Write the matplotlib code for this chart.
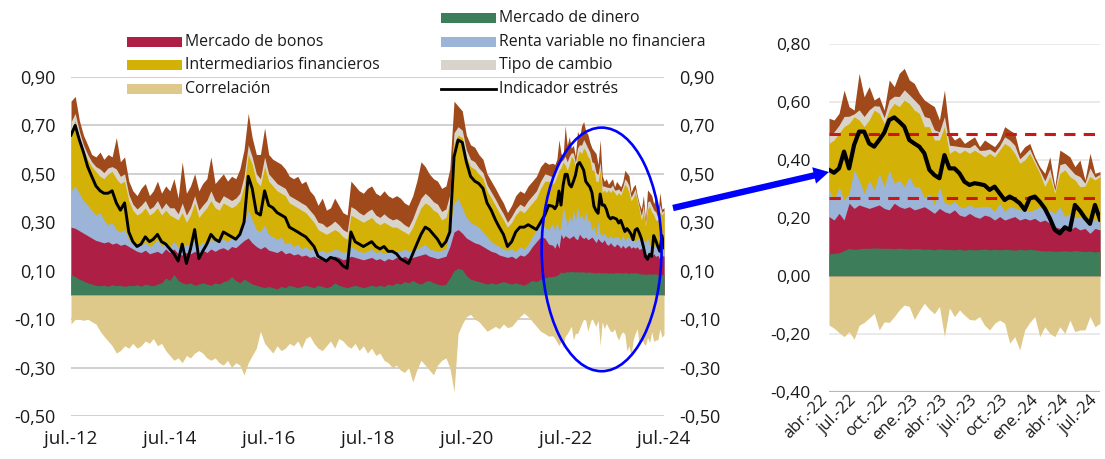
import numpy as np
import pandas as pd
import matplotlib
matplotlib.use("Agg")
import matplotlib.pyplot as plt
import matplotlib.dates as mdates
import matplotlib.transforms as mtransforms
from matplotlib.patches import Rectangle, Ellipse, FancyArrowPatch
from matplotlib.lines import Line2D

plt.rcParams['font.family'] = ['Open Sans', 'DejaVu Sans']
TXT = '#1a1a1a'

# ---------------- monthly data, jul-12 .. mar-22 (117 months) ----------------
dinero_m = [.085, .075, .065, .058, .050, .045, .040, .038, .040, .036,
            .042, .038, .040, .035, .040, .038, .042, .036, .045, .040,
            .038, .045, .050, .070, .060, .085, .060, .050, .045, .050,
            .040, .045, .050, .045, .040, .050, .045, .055, .060, .075,
            .060, .050, .065, .055, .045, .040, .035, .030, .035, .030,
            .025, .035, .030, .040, .035, .030, .035, .040, .035, .030,
            .040, .035, .030, .035, .050, .040, .035, .030, .035, .040,
            .035, .030, .035, .040, .035, .040, .035, .045, .040, .050,
            .045, .055, .050, .060, .050, .045, .055, .060, .050, .045,
            .040, .045, .070, .100, .110, .105, .080, .065, .060, .055,
            .050, .045, .050, .045, .050, .055, .050, .045, .050, .045,
            .040, .050, .060, .055, .065, .070, .075]
bonos_m = [.195, .200, .200, .197, .195, .190, .185, .182, .175, .184,
           .168, .177, .165, .175, .160, .152, .138, .139, .140, .130,
           .137, .135, .120, .120, .115, .105, .110, .115, .130, .120,
           .140, .125, .135, .130, .150, .130, .145, .140, .125, .125,
           .135, .160, .160, .180, .170, .160, .155, .170, .150, .150,
           .150, .150, .140, .135, .130, .140, .125, .125, .120, .130,
           .110, .120, .115, .115, .110, .115, .110, .120, .125, .115,
           .115, .115, .115, .115, .110, .110, .105, .105, .105, .105,
           .105, .105, .100, .095, .110, .120, .115, .100, .105, .105,
           .115, .115, .130, .160, .160, .150, .155, .160, .155, .155,
           .150, .145, .130, .130, .115, .105, .105, .115, .100, .120,
           .120, .125, .140, .165, .175, .165, .135]
renta_m = [.150, .175, .155, .135, .125, .115, .105, .120, .095, .070,
           .090, .055, .055, .060, .030, .025, .030, .030, .035, .030,
           .035, .050, .030, .030, .025, .030, .030, .035, .035, .030,
           .050, .030, .035, .035, .040, .040, .050, .035, .035, .040,
           .035, .050, .075, .115, .095, .070, .070, .090, .065, .060,
           .055, .055, .040, .045, .035, .040, .030, .035, .030, .030,
           .030, .030, .030, .030, .030, .030, .030, .030, .040, .035,
           .030, .030, .030, .035, .030, .030, .030, .030, .030, .030,
           .030, .030, .030, .030, .030, .035, .040, .030, .030, .030,
           .030, .030, .080, .120, .130, .105, .085, .075, .075, .070,
           .060, .050, .040, .035, .035, .030, .030, .030, .030, .035,
           .030, .035, .040, .050, .060, .045, .060]
interm_m = [.250, .270, .230, .210, .190, .180, .180, .150, .170, .210,
            .210, .210, .200, .200, .160, .135, .120, .135, .140, .130,
            .130, .130, .130, .130, .130, .100, .110, .140, .090, .130,
            .150, .120, .120, .150, .160, .140, .110, .150, .150, .120,
            .140, .130, .150, .230, .230, .200, .190, .240, .220, .210,
            .200, .180, .200, .160, .170, .150, .160, .140, .135, .110,
            .090, .075, .075, .080, .080, .075, .065, .050, .130, .130,
            .130, .125, .130, .130, .125, .110, .130, .110, .105, .095,
            .090, .070, .070, .095, .130, .160, .170, .180, .165, .160,
            .125, .130, .100, .250, .260, .290, .250, .230, .230, .220,
            .220, .190, .180, .160, .140, .120, .095, .110, .150, .150,
            .150, .150, .140, .130, .140, .190, .200]
tipo_m = [.035, .030, .025, .020, .020, .020, .020, .030, .025, .025,
          .020, .040, .030, .030, .025, .025, .025, .030, .030, .025,
          .025, .030, .025, .030, .030, .040, .025, .040, .030, .030,
          .030, .030, .030, .030, .040, .030, .030, .030, .030, .030,
          .030, .030, .040, .040, .030, .030, .030, .040, .030, .030,
          .030, .030, .030, .030, .030, .030, .030, .030, .030, .030,
          .030, .035, .030, .030, .035, .030, .030, .030, .035, .035,
          .030, .030, .035, .035, .030, .030, .035, .030, .030, .035,
          .035, .030, .030, .035, .040, .040, .040, .035, .035, .035,
          .035, .035, .035, .040, .035, .030, .030, .030, .030, .025,
          .025, .025, .025, .025, .025, .025, .020, .025, .025, .025,
          .025, .030, .030, .030, .030, .030, .025]
otros_m = [.085, .070, .045, .040, .040, .030, .040, .070, .055, .055,
           .040, .130, .060, .070, .055, .055, .055, .070, .070, .055,
           .065, .080, .065, .070, .070, .120, .065, .170, .090, .090,
           .090, .080, .090, .090, .140, .070, .100, .090, .070, .100,
           .080, .100, .110, .130, .080, .080, .100, .120, .080, .080,
           .090, .090, .080, .080, .080, .100, .080, .100, .080, .080,
           .070, .105, .070, .070, .095, .080, .070, .070, .105, .095,
           .090, .090, .095, .095, .090, .090, .095, .090, .090, .095,
           .095, .090, .090, .095, .110, .150, .110, .095, .095, .095,
           .095, .095, .105, .130, .085, .080, .060, .060, .060, .055,
           .055, .045, .045, .045, .045, .045, .040, .045, .055, .055,
           .055, .060, .060, .060, .060, .050, .045]
correl_m = [-.12, -.10, -.10, -.105, -.10, -.11, -.12, -.15, -.17, -.19,
            -.21, -.24, -.23, -.21, -.22, -.20, -.22, -.21, -.19, -.20,
            -.18, -.21, -.20, -.23, -.25, -.27, -.26, -.28, -.25, -.26,
            -.24, -.23, -.24, -.26, -.27, -.26, -.28, -.29, -.27, -.30,
            -.28, -.29, -.33, -.28, -.25, -.22, -.15, -.20, -.22, -.24,
            -.21, -.23, -.22, -.20, -.21, -.19, -.22, -.18, -.17, -.20,
            -.22, -.23, -.21, -.19, -.22, -.18, -.19, -.21, -.22, -.20,
            -.23, -.21, -.24, -.22, -.25, -.24, -.27, -.28, -.30, -.29,
            -.31, -.32, -.30, -.36, -.31, -.27, -.29, -.31, -.33, -.29,
            -.27, -.26, -.30, -.40, -.16, -.12, -.09, -.08, -.10, -.11,
            -.13, -.15, -.14, -.13, -.14, -.12, -.135, -.13, -.11, -.09,
            -.075, -.09, -.11, -.13, -.15, -.16, -.17]
estres_m = [.66, .70, .64, .59, .53, .49, .45, .43, .42, .42,
            .43, .38, .35, .38, .26, .22, .20, .21, .24, .22,
            .23, .25, .22, .21, .19, .17, .14, .21, .13, .19,
            .27, .15, .18, .21, .25, .23, .22, .26, .25, .24,
            .23, .25, .30, .49, .44, .34, .33, .43, .37, .36,
            .34, .33, .32, .28, .27, .26, .25, .24, .22, .20,
            .16, .15, .14, .155, .15, .14, .12, .11, .26, .22,
            .21, .20, .21, .22, .20, .19, .20, .18, .18, .17,
            .15, .14, .13, .17, .21, .25, .28, .27, .25, .23,
            .20, .22, .26, .57, .64, .63, .55, .49, .47, .46,
            .44, .38, .35, .31, .28, .25, .20, .22, .26, .28,
            .28, .29, .28, .27, .30, .33, .37]

# ---------------- semi-monthly data, abr-22 .. jul-24 (55 points) ----------------
dinero_s = [.076, .078, .080, .088, .095, .092, .094, .096, .095, .097,
            .096, .095, .096, .094, .096, .095, .093, .095, .094, .092,
            .093, .090, .094, .091, .092, .090, .093, .089, .092, .090,
            .091, .093, .090, .092, .090, .092, .091, .089, .092, .090,
            .092, .090, .088, .086, .087, .085, .086, .087, .085, .088,
            .086, .084, .086, .083, .085]
bonos_s = [.129, .115, .136, .105, .156, .141, .151, .143, .138, .142,
           .149, .138, .132, .157, .143, .138, .146, .133, .139, .147,
           .135, .126, .139, .131, .124, .138, .117, .116, .124, .115,
           .108, .117, .115, .101, .115, .101, .108, .116, .101, .109,
           .101, .109, .099, .107, .095, .085, .078, .083, .074, .082,
           .073, .080, .061, .081, .074]
renta_s = [.092, .069, .092, .069, .034, .133, .086, .046, .098, .058,
           .109, .075, .138, .069, .092, .075, .104, .080, .075, .030,
           .057, .030, .075, .030, .030, .030, .030, .030, .030, .030,
           .040, .030, .034, .030, .046, .030, .040, .030, .035, .030,
           .030, .030, .052, .030, .046, .046, .075, .035, .057, .030,
           .046, .030, .046, .030, .030]
interm_s = [.160, .207, .184, .253, .241, .183, .207, .230, .207, .275,
            .207, .218, .206, .275, .253, .299, .252, .264, .253, .246,
            .230, .223, .161, .263, .177, .176, .183, .199, .177, .199,
            .184, .171, .184, .188, .183, .234, .207, .188, .161, .171,
            .200, .160, .115, .085, .115, .069, .115, .161, .127, .131,
            .103, .116, .150, .137, .154]
tipo_s = [.030, .028, .028, .035, .025, .010, .035, .035, .035, .015,
          .025, .020, .035, .025, .035, .035, .030, .035, .028, .035,
          .030, .035, .028, .035, .028, .015, .023, .010, .020, .020,
          .010, .023, .015, .015, .015, .023, .023, .028, .015, .020,
          .015, .010, .010, .020, .027, .010, .030, .023, .027, .020,
          .035, .010, .030, .010, .008]
otros_s = [.057, .041, .041, .091, .033, .013, .126, .068, .080, .020,
           .032, .026, .069, .033, .080, .074, .051, .057, .041, .057,
           .050, .080, .041, .091, .041, .020, .034, .013, .026, .026,
           .013, .035, .019, .020, .020, .035, .034, .041, .019, .026,
           .019, .012, .013, .026, .041, .013, .050, .034, .041, .026,
           .057, .011, .050, .013, .009]
correl_s = [-.169, -.180, -.195, -.209, -.192, -.218, -.170, -.160, -.145, -.129,
            -.186, -.158, -.160, -.140, -.117, -.100, -.105, -.150, -.120, -.094,
            -.115, -.130, -.105, -.209, -.110, -.140, -.117, -.135, -.150, -.152,
            -.140, -.170, -.186, -.163, -.152, -.163, -.232, -.209, -.255, -.186,
            -.160, -.140, -.209, -.175, -.198, -.209, -.175, -.198, -.152, -.192,
            -.186, -.186, -.140, -.175, -.163]
estres_s = [.366, .356, .371, .429, .371, .452, .498, .498, .457, .446,
            .469, .494, .538, .547, .532, .515, .469, .457, .446, .423,
            .366, .348, .337, .417, .371, .371, .354, .325, .314, .320,
            .317, .313, .297, .308, .285, .262, .274, .264, .251, .228,
            .268, .274, .256, .233, .199, .159, .147, .168, .159, .245,
            .225, .200, .180, .245, .195]

dates_m = pd.date_range('2012-07-01', periods=len(estres_m), freq='MS')
dates_s = pd.date_range('2022-04-01', '2024-07-01', periods=len(estres_s))

yticks_left = [-0.5, -0.3, -0.1, 0.1, 0.3, 0.5, 0.7, 0.9]
ylabels_left = ['-0,50', '-0,30', '-0,10', '0,10', '0,30', '0,50', '0,70', '0,90']
xticks_left = ['2012-07-01', '2014-07-01', '2016-07-01', '2018-07-01',
               '2020-07-01', '2022-07-01', '2024-07-01']
xlabels_left = ['jul.-12', 'jul.-14', 'jul.-16', 'jul.-18', 'jul.-20', 'jul.-22', 'jul.-24']
yticks_right = [-0.4, -0.2, 0.0, 0.2, 0.4, 0.6, 0.8]
ylabels_right = ['-0,40', '-0,20', '0,00', '0,20', '0,40', '0,60', '0,80']
xticks_right = ['2022-04-01', '2022-07-01', '2022-10-01', '2023-01-01', '2023-04-01',
                '2023-07-01', '2023-10-01', '2024-01-01', '2024-04-01', '2024-07-01']
xlabels_right = ['abr.-22', 'jul.-22', 'oct.-22', 'ene.-23', 'abr.-23',
                 'jul.-23', 'oct.-23', 'ene.-24', 'abr.-24', 'jul.-24']
umbrales = [0.49, 0.27]

names = ['Mercado de dinero', 'Mercado de bonos', 'Renta variable no financiera',
         'Intermediarios financieros', 'Tipo de cambio', 'Otros']
colors = ['#3d7d5a', '#ad1f45', '#9bb4d8', '#d4b106', '#d9d4cb', '#a0491b']
c_correl = '#dfc98a'

W, H = 1105, 459
def fx(x):
    return x / W
def fy(y):
    return 1 - y / H

fig = plt.figure(figsize=(W / 100, H / 100), dpi=100)
axL = fig.add_axes([fx(71), fy(416), fx(664) - fx(71), fy(77) - fy(416)])
axR = fig.add_axes([fx(829), fy(392), fx(1100) - fx(829), fy(44) - fy(392)])


def stack(ax, x, comps, correl, ind, lw):
    cum = np.cumsum(np.vstack(comps), axis=0)
    for i in range(len(comps) - 1, -1, -1):
        ax.fill_between(x, 0, cum[i], color=colors[i], lw=0, zorder=2)
    ax.fill_between(x, 0, correl, color=c_correl, lw=0, zorder=2)
    ax.plot(x, ind, color='black', lw=lw, zorder=4, solid_joinstyle='round')


x_all = dates_m.append(dates_s)
comps_all = [np.r_[a, b] for a, b in [(dinero_m, dinero_s), (bonos_m, bonos_s),
                                      (renta_m, renta_s), (interm_m, interm_s),
                                      (tipo_m, tipo_s), (otros_m, otros_s)]]
stack(axL, x_all, comps_all, np.r_[correl_m, correl_s], np.r_[estres_m, estres_s], 2.1)
stack(axR, dates_s, [dinero_s, bonos_s, renta_s, interm_s, tipo_s, otros_s],
      correl_s, estres_s, 3.0)

for u in umbrales:
    axR.axhline(u, color='#cc1719', lw=2.2, ls=(0, (3.7, 2.7)), zorder=3)

# axes styling
for ax in (axL, axR):
    for s in ax.spines.values():
        s.set_visible(False)
    ax.set_axisbelow(True)

axL.set_ylim(-0.5, 0.9)
axL.set_xlim(pd.Timestamp('2012-07-01'), pd.Timestamp('2024-07-01'))
axL.set_yticks(yticks_left, ylabels_left)
axL.set_xticks(pd.to_datetime(xticks_left), xlabels_left)
axL.yaxis.grid(True, color='#c4c4c4', lw=1.1)
axL.tick_params(axis='y', length=0, pad=11, labelsize=13, labelleft=True,
                labelright=True, colors=TXT)
axL.tick_params(axis='x', length=0, pad=10, labelsize=13.5, colors=TXT)

axR.set_ylim(-0.4, 0.8)
axR.set_xlim(pd.Timestamp('2022-04-01'), pd.Timestamp('2024-07-01'))
axR.set_yticks(yticks_right, ylabels_right)
axR.set_xticks(pd.to_datetime(xticks_right), xlabels_right)
axR.yaxis.grid(True, color='#e4e4e4', lw=1.1)
axR.axhline(-0.4, color='#b8b8b8', lw=1.6, zorder=1)
axR.tick_params(axis='y', length=0, pad=13, labelsize=12.5, colors=TXT)
axR.tick_params(axis='x', length=0, pad=4, labelsize=12, colors=TXT)
shift = mtransforms.ScaledTranslation(-4 / 100, 0, fig.dpi_scale_trans)
for lab in axR.get_xticklabels():
    lab.set_rotation(45)
    lab.set_ha('right')
    lab.set_va('center')
    lab.set_rotation_mode('anchor')
    lab.set_transform(lab.get_transform() + shift)

# blue ellipse highlighting the recent period
cx = mdates.date2num(pd.Timestamp('2023-03-28'))
axL.add_patch(Ellipse((cx, 0.188), 886, 1.006, fill=False, edgecolor='#0000ff',
                      lw=1.9, zorder=6, clip_on=False))

# arrow towards the zoom panel
fig.add_artist(FancyArrowPatch((fx(673), fy(208)), (fx(829), fy(172)),
                               transform=fig.transFigure,
                               arrowstyle='simple,head_width=1.1,head_length=1.0,tail_width=0.42',
                               mutation_scale=11, color='#0000ff', lw=0,
                               shrinkA=0, shrinkB=0, zorder=6))

# legend (two columns, manual)
leg_fs = 11.4
def leg_patch(x0, yc, color, label):
    fig.add_artist(Rectangle((fx(x0), fy(yc) - 5 / H), 55 / W, 10 / H,
                             transform=fig.transFigure, color=color, lw=0))
    fig.text(fx(x0 + 58), fy(yc), label, fontsize=leg_fs, va='center', ha='left', color=TXT)

leg_patch(127, 42, colors[1], names[1])
leg_patch(127, 65, colors[3], names[3])
leg_patch(127, 89, c_correl, 'Correlación')
leg_patch(441, 18, colors[0], names[0])
leg_patch(441, 42, colors[2], names[2])
leg_patch(441, 65, colors[4], names[4])
fig.add_artist(Line2D([fx(441), fx(496)], [fy(89), fy(89)], transform=fig.transFigure,
                      color='black', lw=2.0))
fig.text(fx(499), fy(89), 'Indicador estrés', fontsize=leg_fs, va='center', ha='left', color=TXT)

fig.savefig('out.png', dpi=100)
